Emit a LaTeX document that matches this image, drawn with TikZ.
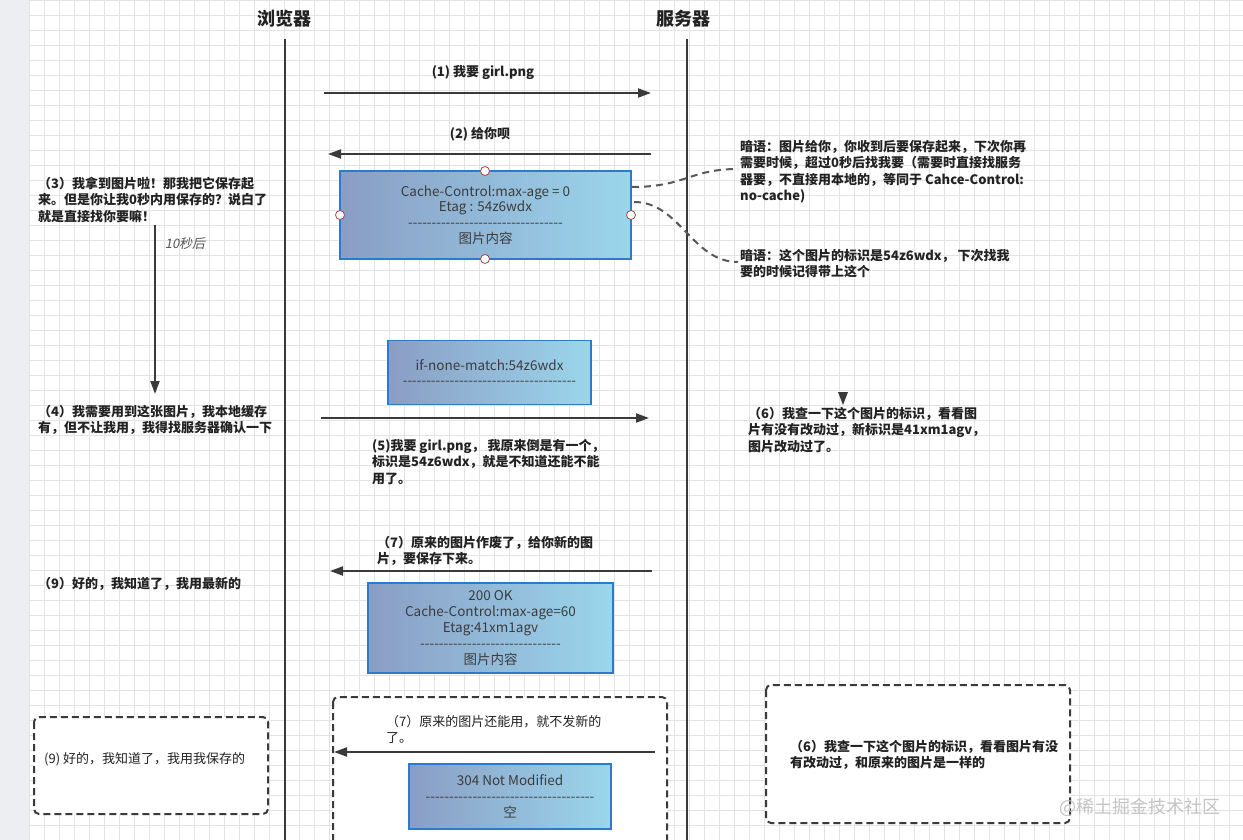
\documentclass[tikz,border=0pt]{standalone}
\usepackage{fontspec}
\setmainfont{Noto Sans CJK SC}
\newfontfamily\slantfont[FakeSlant=0.2]{Noto Sans CJK SC}
\usetikzlibrary{arrows.meta}
\definecolor{gridc}{HTML}{E3E3E3}
\definecolor{stripc}{HTML}{ECEEF1}
\definecolor{linec}{HTML}{3A3A3A}
\definecolor{labelc}{HTML}{222222}
\definecolor{boxl}{HTML}{8A9DC4}
\definecolor{boxr}{HTML}{9AD6EC}
\definecolor{boxb}{HTML}{2B7BCB}
\definecolor{boxt}{HTML}{3C3C3C}
\definecolor{handlec}{HTML}{A04848}
\definecolor{wmc}{HTML}{C4C4C4}
\newcommand\dashrow[1]{\foreach \i in {1,...,#1}{-\kern0pt}}
\begin{document}
\begin{tikzpicture}[x=1pt,y=-1pt,
  msg/.style={draw=linec, line width=2pt, -{Triangle[length=13pt,width=9pt]}},
  lifeline/.style={draw=linec, line width=2.2pt},
  title/.style={font=\bfseries\fontsize{18}{20}\selectfont, text=labelc, inner sep=0},
  lbl/.style={font=\bfseries\fontsize{13}{16.4}\selectfont, text=labelc, align=left, inner sep=0, anchor=north west},
  lblr/.style={font=\fontsize{13}{16.4}\selectfont, text=labelc, align=left, inner sep=0, anchor=north west},
  clbl/.style={font=\bfseries\fontsize{13}{16}\selectfont, text=labelc, inner sep=0},
  databox/.style={draw=boxb, line width=1.6pt, left color=boxl, right color=boxr, text=boxt, font=\fontsize{13.5}{15.8}\selectfont, align=center, inner sep=0},
  dbox/.style={draw=linec, line width=2pt, dash pattern=on 7pt off 4pt, rounded corners=5pt, fill=white},
  handle/.style={circle, draw=handlec, fill=white, line width=0.8pt, minimum size=9pt, inner sep=0},
  hint/.style={draw=linec!85, line width=2pt, dash pattern=on 7pt off 5pt}
]
\useasboundingbox (0,0) rectangle (1243,840);
\fill[white] (0,0) rectangle (1243,840);
\fill[stripc] (0,0) rectangle (29,840);
\foreach \x in {29,44,...,1243} \draw[gridc, line width=0.6pt] (\x,0) -- (\x,840);
\foreach \y in {0,15,...,840} \draw[gridc, line width=0.6pt] (29,\y) -- (1243,\y);

% titles and lifelines
\node[title] (tb) at (284,19) {浏览器};
\node[title] (ts) at (683,19) {服务器};
\coordinate (bt) at (285,39); \coordinate (bb) at (285,840);
\coordinate (st) at (687,39); \coordinate (sb) at (687,840);
\draw[lifeline] (bt) -- (bb);
\draw[lifeline] (st) -- (sb);

% dashed frames (bottom)
\draw[dbox] (34,717) rectangle (268,814);
\draw[dbox] (333,697) rectangle (667,860);
\draw[dbox] (766,685) rectangle (1070,823);

% (1) and (2)
\coordinate (a1s) at (324,93); \coordinate (a1e) at (651,93);
\draw[msg] (a1s) -- (a1e);
\node[clbl] (l1) at (483,73) {(1) 我要 girl.png};
\coordinate (a2s) at (651,154); \coordinate (a2e) at (328,154);
\draw[msg] (a2s) -- (a2e);
\node[clbl] (l2) at (480,134) {(2) 给你呗};

% box 1
\node[databox, minimum width=291pt, minimum height=88pt] (b1) at (485.5,215)
  {Cache-Control:max-age = 0\\Etag : 54z6wdx\\\dashrow{33}\\图片内容};
\node[handle] (h1) at (485,171) {};
\node[handle] (h2) at (340,215) {};
\node[handle] (h3) at (631,215) {};
\node[handle] (h4) at (485,259) {};

% hints
\node[lbl] (hint1) at (740,140) {暗语：图片给你，你收到后要保存起来，下次你再\\需要时候，超过0秒后找我要（需要时直接找服务\\器要，不直接用本地的，等同于 Cahce-Control:\\no-cache)};
\node[lbl] (hint2) at (740,249) {暗语：这个图片的标识是54z6wdx， 下次找我\\要的时候记得带上这个};
\coordinate (c1s) at (632,187); \coordinate (c1e) at (738,169);
\coordinate (c2s) at (634,202); \coordinate (c2e) at (738,262);
\draw[hint] (c1s) .. controls (685,187) and (690,169) .. (c1e);
\draw[hint] (c2s) .. controls (680,202) and (692,262) .. (c2e);

% (3) and 10 s
\node[lbl] (t3) at (38,177) {（3）我拿到图片啦！那我把它保存起\\来。但是你让我0秒内用保存的？说白了\\就是直接找你要嘛！};
\coordinate (ts1) at (155,225); \coordinate (ts2) at (155,394);
\draw[msg] (ts1) -- (ts2);
\node[font=\slantfont\fontsize{13}{15}\selectfont, text=linec!85, inner sep=0] (t10) at (185,244) {10秒后};

% (4) (5)
\node[lbl] (t4) at (38,405) {（4）我需要用到这张图片，我本地缓存\\有，但不让我用，我得找服务器确认一下};
\node[databox, minimum width=203pt, minimum height=64pt] (b2) at (489.5,372.5)
  {if-none-match:54z6wdx\\\dashrow{37}};
\coordinate (a5s) at (321,418); \coordinate (a5e) at (649,418);
\draw[msg] (a5s) -- (a5e);
\node[lbl] (t5) at (372,439) {(5)我要 girl.png， 我原来倒是有一个，\\标识是54z6wdx，就是不知道还能不能\\用了。};

% (6)
\fill[linec] (838,392) -- (848,392) -- (843,405) -- cycle;
\node[lbl] (t6) at (748,407) {（6）我查一下这个图片的标识，看看图\\片有没有改动过，新标识是41xm1agv，\\图片改动过了。};

% (7) new picture
\node[lbl] (t7) at (377,536) {（7）原来的图片作废了，给你新的图\\片，要保存下来。};
\coordinate (a7s) at (652,571); \coordinate (a7e) at (330,571);
\draw[msg] (a7s) -- (a7e);
\node[lbl, anchor=west] (t9) at (38,584) {（9）好的，我知道了，我用最新的};
\node[databox, minimum width=245pt, minimum height=90pt] (b3) at (490.5,628)
  {200 OK\\Cache-Control:max-age=60\\Etag:41xm1agv\\\dashrow{30}\\图片内容};

% bottom: 304
\node[lblr, anchor=west] (t9b) at (44,759) {(9) 好的，我知道了，我用我保存的};
\node[lblr] (t7b) at (386,715) {（7）原来的图片还能用，就不发新的\\了。};
\coordinate (a8s) at (655,752); \coordinate (a8e) at (334,752);
\draw[msg] (a8s) -- (a8e);
\node[databox, minimum width=202pt, minimum height=65pt] (b4) at (510,796.5)
  {304 Not Modified\\\dashrow{36}\\空};
\node[lbl] (t6b) at (790,740) {（6）我查一下这个图片的标识，看看图片有没\\有改动过，和原来的图片是一样的};

% watermark
\node[font=\fontsize{18}{20}\selectfont, text=wmc, inner sep=0] (wm) at (1140,807) {@稀土掘金技术社区};
\end{tikzpicture}
\end{document}
